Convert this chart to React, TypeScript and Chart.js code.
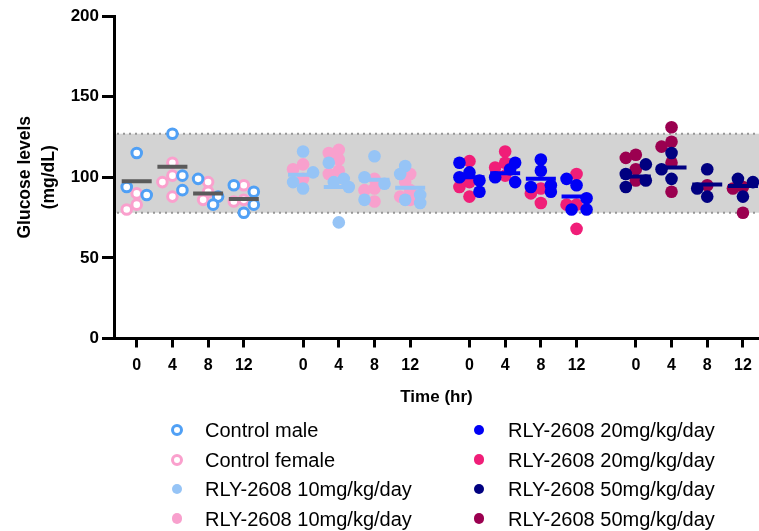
import React, { useEffect, useRef } from "react";
import { Chart, registerables } from "chart.js";

Chart.register(...registerables);

// ---------------- data ----------------
const TIME_LABELS = ["0", "4", "8", "12"];
const Y_TICK_STEP = 50;
const Y_MIN = 0;
const Y_MAX = 200;
const NORMAL_RANGE = [78, 127];

const SERIES_LABELS = [
  "Control male",
  "Control female",
  "RLY-2608 10mg/kg/day",
  "RLY-2608 10mg/kg/day",
  "RLY-2608 20mg/kg/day",
  "RLY-2608 20mg/kg/day",
  "RLY-2608 50mg/kg/day",
  "RLY-2608 50mg/kg/day",
];

// values per time point (0, 4, 8, 12 hr)
const controlMale = [[115, 94, 89], [127, 101, 92], [99, 88, 83], [95, 91, 83, 78]];
const controlFemale = [[90, 83, 80], [109, 101, 97, 88], [97, 91, 86], [95, 86, 85]];
const rly10Male = [[116, 103, 97, 93], [109, 99, 97, 94, 72], [113, 100, 96, 86], [107, 102, 89, 86, 84]];
const rly10Female = [[108, 105, 99], [117, 115, 111, 104, 102], [99, 93, 92, 85], [102, 97, 92, 88, 86]];
const rly20Male = [[109, 103, 100, 98, 91], [109, 105, 100, 97], [111, 104, 95, 94, 91], [99, 95, 87, 80, 80]];
const rly20Female = [[110, 97, 94, 88], [116, 109, 106, 101], [93, 90, 84], [102, 83, 83, 68]];
const rly50Male = [[108, 102, 98, 94], [115, 105, 99], [105, 93, 88], [99, 97, 88]];
const rly50Female = [[114, 112, 105, 98], [131, 122, 119, 109, 91], [95], [94, 93, 78]];

const controlMean = [97.5, 106.5, 90, 86.5];
const rly10Mean = [101.5, 94, 98.5, 93.5];
const rly20Mean = [100, 102.5, 99, 88];
const rly50Mean = [100.5, 106, 95.5, 94.5];

// ---------------- layout / style ----------------
const W = 759;
const H = 531;
const FONT = "'Liberation Sans', Arial, Helvetica, sans-serif";
const GROUP_STEP = 4.66;
const X_MIN = -0.636;
const X_MAX = 17.43;
const PX_PER_X = 35.7;
const PX_PER_Y = 1.6125;

type Series = { values: number[][]; color: string; open: boolean; group: number; label: string };

const SERIES: Series[] = [
  { values: controlMale, color: "rgb(80,160,245)", open: true, group: 0, label: SERIES_LABELS[0] },
  { values: controlFemale, color: "rgb(250,160,205)", open: true, group: 0, label: SERIES_LABELS[1] },
  { values: rly10Male, color: "rgb(150,196,246)", open: false, group: 1, label: SERIES_LABELS[2] },
  { values: rly10Female, color: "rgb(248,160,205)", open: false, group: 1, label: SERIES_LABELS[3] },
  { values: rly20Male, color: "rgb(0,0,245)", open: false, group: 2, label: SERIES_LABELS[4] },
  { values: rly20Female, color: "rgb(240,30,120)", open: false, group: 2, label: SERIES_LABELS[5] },
  { values: rly50Male, color: "rgb(0,0,128)", open: false, group: 3, label: SERIES_LABELS[6] },
  { values: rly50Female, color: "rgb(155,0,80)", open: false, group: 3, label: SERIES_LABELS[7] },
];

const MEANS = [
  { values: controlMean, color: "rgb(90,90,90)" },
  { values: rly10Mean, color: "rgb(150,196,246)" },
  { values: rly20Mean, color: "rgb(0,0,245)" },
  { values: rly50Mean, color: "rgb(0,0,128)" },
];

const tickPos = (g: number, t: number) => g * GROUP_STEP + t;

// simple deterministic beeswarm offsets for a column of points
function swarm(values: number[], placed: { dx: number; y: number }[]): number[] {
  const STEP = 5;
  const MIN_D = 8.5;
  const cands = [0, -STEP, STEP, -2 * STEP, 2 * STEP];
  return values.map((v) => {
    const y = v * PX_PER_Y;
    let best = 0;
    let bestD = -1;
    for (const dx of cands) {
      let d = Infinity;
      for (const p of placed) d = Math.min(d, Math.hypot(p.dx - dx, p.y - y));
      if (d >= MIN_D) { best = dx; bestD = d; break; }
      if (d > bestD) { bestD = d; best = dx; }
    }
    placed.push({ dx: best, y });
    return best / PX_PER_X;
  });
}

const bandPlugin = {
  id: "normalBand",
  beforeDraw(chart: any) {
    const { ctx, chartArea, scales } = chart;
    const yTop = scales.y.getPixelForValue(NORMAL_RANGE[1]);
    const yBot = scales.y.getPixelForValue(NORMAL_RANGE[0]);
    ctx.save();
    ctx.fillStyle = "rgb(211,211,211)";
    ctx.fillRect(chartArea.left, yTop, chartArea.right - chartArea.left, yBot - yTop);
    ctx.strokeStyle = "rgb(150,150,150)";
    ctx.lineWidth = 2;
    ctx.setLineDash([2, 4]);
    for (const y of [yTop, yBot]) {
      ctx.beginPath();
      ctx.moveTo(chartArea.left + 3, y);
      ctx.lineTo(chartArea.right, y);
      ctx.stroke();
    }
    ctx.restore();
  },
};

const LEGEND_COL_MARKER = [177, 479];
const LEGEND_COL_TEXT = [205, 508];
const LEGEND_ROW_Y = [430, 459.5, 489, 518.5];

export default function App() {
  const ref = useRef<HTMLCanvasElement>(null);

  useEffect(() => {
    const canvas = ref.current;
    if (!canvas) return;

    // compute swarm offsets per column (shared across the two sexes of a group)
    const placedByCol: Record<string, { dx: number; y: number }[]> = {};
    const order = [1, 0, 3, 2, 5, 4, 7, 6]; // female first, then male
    const pointData: any[][] = SERIES.map(() => []);
    for (const si of order) {
      const s = SERIES[si];
      s.values.forEach((col, t) => {
        const key = `${s.group}-${t}`;
        placedByCol[key] = placedByCol[key] || [];
        const offs = swarm(col, placedByCol[key]);
        col.forEach((v, i) => pointData[si].push({ x: tickPos(s.group, t) + offs[i], y: v }));
      });
    }

    const datasets: any[] = [];
    MEANS.forEach((m, g) => {
      datasets.push({
        label: `mean-${g}`,
        data: m.values.map((v, t) => ({ x: tickPos(g, t), y: v })),
        pointStyle: "line",
        pointRadius: 15,
        pointHoverRadius: 15,
        pointBorderWidth: 4,
        pointHoverBorderWidth: 4,
        borderColor: m.color,
        backgroundColor: m.color,
        showLine: false,
        order: 1,
      });
    });
    SERIES.forEach((s, si) => {
      const male = si % 2 === 0;
      datasets.push({
        label: s.label,
        data: pointData[si],
        pointStyle: "circle",
        pointRadius: s.open ? 4.8 : 6.3,
        pointHoverRadius: s.open ? 4.8 : 6.3,
        pointBorderWidth: s.open ? 3 : 0,
        pointHoverBorderWidth: s.open ? 3 : 0,
        borderColor: s.color,
        backgroundColor: s.open ? "#ffffff" : s.color,
        showLine: false,
        order: male ? 2 : 3,
      });
    });

    const xTicks: number[] = [];
    for (let g = 0; g < 4; g++) for (let t = 0; t < TIME_LABELS.length; t++) xTicks.push(tickPos(g, t));

    const chart = new Chart(canvas, {
      type: "scatter",
      data: { datasets },
      plugins: [bandPlugin],
      options: {
        responsive: false,
        animation: false,
        events: [],
        layout: { autoPadding: false, padding: { top: 16, left: 0, right: 0, bottom: 0 } },
        plugins: { legend: { display: false }, tooltip: { enabled: false } },
        scales: {
          x: {
            type: "linear",
            min: X_MIN,
            max: X_MAX,
            afterBuildTicks: (scale: any) => {
              scale.ticks = xTicks.map((v) => ({ value: v }));
            },
            afterFit: (scale: any) => {
              scale.height = H - 338.5;
              scale.paddingLeft = 0;
              scale.paddingRight = 0;
            },
            ticks: {
              autoSkip: false,
              maxRotation: 0,
              minRotation: 0,
              padding: 8,
              color: "#000",
              font: { family: FONT, size: 16, weight: "bold" },
              callback: (_v: any, i: number) => TIME_LABELS[i % TIME_LABELS.length],
            },
            grid: { drawOnChartArea: false, drawTicks: true, tickLength: 9, tickWidth: 3, tickColor: "#000" },
            border: { display: true, width: 3, color: "#000" },
            title: {
              display: true,
              text: "Time (hr)",
              color: "#000",
              font: { family: FONT, size: 17, weight: "bold" },
              padding: { top: 0, bottom: 123 },
            },
          },
          y: {
            type: "linear",
            min: Y_MIN,
            max: Y_MAX,
            afterFit: (scale: any) => {
              scale.width = 114;
              scale.paddingTop = 0;
              scale.paddingBottom = 0;
            },
            ticks: {
              stepSize: Y_TICK_STEP,
              padding: 3,
              color: "#000",
              font: { family: FONT, size: 17, weight: "bold" },
            },
            grid: { drawOnChartArea: false, drawTicks: true, tickLength: 12, tickWidth: 3, tickColor: "#000" },
            border: { display: true, width: 3, color: "#000" },
            title: {
              display: true,
              text: ["Glucose levels", "(mg/dL)"],
              color: "#000",
              font: { family: FONT, size: 17.5, weight: "bold", lineHeight: "24px" },
              padding: { top: 13, bottom: 0 },
            },
          },
        },
      } as any,
    });
    return () => chart.destroy();
  }, []);

  return (
    <div
      style={{
        position: "absolute",
        left: 0,
        top: 0,
        width: W,
        height: H,
        background: "#fff",
        overflow: "hidden",
      }}
    >
      <canvas ref={ref} width={W} height={H} style={{ position: "absolute", left: 0, top: 0, width: W, height: H }} />
      {SERIES.map((s, i) => {
        const col = i < 4 ? 0 : 1;
        const row = i % 4;
        const cy = LEGEND_ROW_Y[row];
        const size = s.open ? 12 : 10.5;
        return (
          <React.Fragment key={i}>
            <span
              style={{
                position: "absolute",
                left: LEGEND_COL_MARKER[col] - size / 2,
                top: cy - size / 2,
                width: size,
                height: size,
                boxSizing: "border-box",
                borderRadius: "50%",
                border: s.open ? `3px solid ${s.color}` : "none",
                background: s.open ? "#fff" : s.color,
              }}
            />
            <div
              style={{
                position: "absolute",
                left: LEGEND_COL_TEXT[col],
                top: cy - 12,
                height: 24,
                lineHeight: "24px",
                fontSize: 20,
                fontFamily: FONT,
                color: "#000",
                whiteSpace: "nowrap",
              }}
            >
              {s.label}
            </div>
          </React.Fragment>
        );
      })}
    </div>
  );
}
